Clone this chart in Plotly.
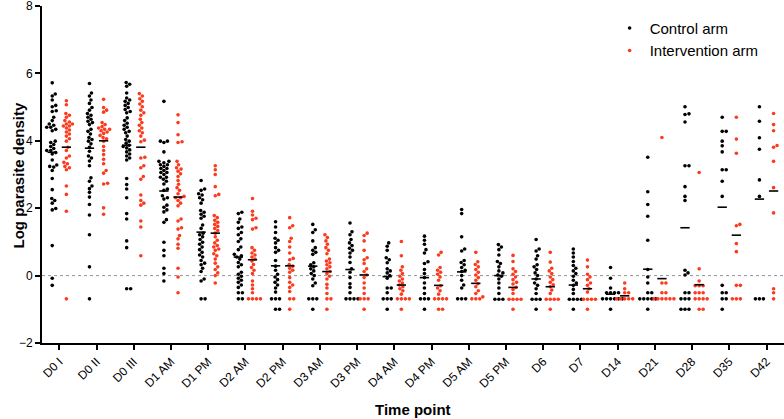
import plotly.graph_objects as go

# ---------------- data ----------------
categories = ["D0 I", "D0 II", "D0 III", "D1 AM", "D1 PM", "D2 AM", "D2 PM", "D3 AM",
              "D3 PM", "D4 AM", "D4 PM", "D5 AM", "D5 PM", "D6", "D7", "D14", "D21",
              "D28", "D35", "D42"]

c_D0_I = [5.72, 5.39, 5.33, 5.21, 5.05, 5.01, 4.89, 4.87, 4.70, 4.60, 4.50, 4.46, 4.40, 4.40, 4.34, 4.30,
          3.99, 3.95, 3.89, 3.83, 3.77, 3.71, 3.71, 3.65, 3.61, 3.43, 3.28, 3.24, 3.22, 3.12, 2.88, 2.55,
          2.29, 2.23, 2.15, 1.99, 1.95, 0.89, -0.08, -0.29]
i_D0_I = [5.19, 5.07, 4.81, 4.76, 4.70, 4.60, 4.56, 4.50, 4.50, 4.44, 4.44, 4.38, 4.32, 4.26, 4.20, 4.14,
          4.06, 3.99, 3.81, 3.71, 3.55, 3.49, 3.36, 3.32, 3.24, 3.20, 3.14, 2.66, 2.41, 1.91, -0.69]
c_D0_II = [5.70, 5.42, 5.33, 5.21, 5.11, 4.99, 4.91, 4.81, 4.76, 4.70, 4.64, 4.58, 4.54, 4.48, 4.34, 4.28,
           4.20, 4.10, 4.04, 3.99, 3.91, 3.81, 3.69, 3.55, 3.49, 3.40, 3.26, 2.90, 2.80, 2.66, 2.58, 2.47,
           2.33, 2.11, 1.80, 1.21, 0.26, -0.69]
i_D0_II = [5.23, 4.99, 4.91, 4.85, 4.54, 4.48, 4.42, 4.38, 4.34, 4.34, 4.30, 4.26, 4.22, 4.16, 4.10, 4.06,
           3.99, 3.83, 3.71, 3.59, 3.45, 3.32, 3.12, 3.04, 2.74, 2.72, 2.01, 1.82]
c_D0_III = [5.73, 5.68, 5.62, 5.42, 5.27, 5.21, 5.17, 5.11, 5.05, 4.99, 4.93, 4.87, 4.83, 4.68, 4.60, 4.52,
            4.46, 4.40, 4.34, 4.28, 4.24, 4.14, 4.04, 3.99, 3.93, 3.87, 3.83, 3.79, 3.73, 3.67, 3.61, 3.55,
            3.49, 3.43, 2.88, 2.70, 2.57, 2.31, 1.84, 1.68, 1.03, 0.83, -0.39, -0.39]
i_D0_III = [5.40, 5.33, 5.25, 5.17, 5.09, 5.01, 4.91, 4.83, 4.76, 4.64, 4.54, 4.46, 4.38, 4.30, 4.24, 4.14,
            4.02, 3.97, 3.51, 3.49, 3.26, 3.20, 2.94, 2.86, 2.39, 2.23, 2.15, 2.09, 1.62, 1.44, 0.59]
c_D1_AM = [5.17, 3.99, 3.99, 3.95, 3.67, 3.39, 3.39, 3.35, 3.29, 3.29, 3.24, 3.18, 3.18, 3.12, 3.06, 3.06,
           3.00, 2.92, 2.92, 2.86, 2.80, 2.72, 2.57, 2.53, 2.37, 2.31, 2.27, 2.09, 2.03, 1.95, 1.89, 1.66,
           1.58, 0.99, 0.75, 0.59, 0.22, 0.06, -0.16]
i_D1_AM = [4.77, 4.54, 4.18, 3.97, 3.95, 3.39, 3.29, 3.20, 3.16, 3.10, 3.02, 2.94, 2.82, 2.71, 2.61, 2.53,
           2.43, 2.35, 2.31, 2.31, 2.23, 2.15, 2.07, 1.68, 1.62, 1.42, 1.38, 1.19, 1.09, 0.93, 0.81, 0.22,
           -0.04, -0.51]
c_D1_PM = [2.82, 2.57, 2.53, 2.43, 2.39, 2.31, 2.25, 2.15, 1.93, 1.88, 1.82, 1.76, 1.70, 1.50, 1.40, 1.26,
           1.21, 1.15, 1.07, 0.99, 0.93, 0.85, 0.77, 0.69, 0.61, 0.55, 0.45, 0.37, 0.32, 0.22, 0.12, -0.10,
           -0.16, -0.69, -0.69]
i_D1_PM = [3.26, 3.14, 3.00, 2.64, 2.41, 2.37, 1.78, 1.72, 1.64, 1.58, 1.52, 1.46, 1.40, 1.34, 1.26, 1.15,
           1.05, 0.97, 0.89, 0.85, 0.79, 0.75, 0.65, 0.59, 0.49, 0.37, 0.26, 0.18, 0.08, 0.00, -0.22]
c_D2_AM = [1.88, 1.84, 1.68, 1.58, 1.44, 1.40, 1.28, 1.21, 1.09, 1.01, 0.85, 0.77, 0.63, 0.59, 0.55, 0.49,
           0.39, 0.32, 0.26, 0.10, 0.04, -0.02, -0.08, -0.14, -0.20, -0.28, -0.35, -0.51, -0.51, -0.69, -0.69]
i_D2_AM = [2.29, 1.91, 1.80, 1.70, 1.66, 1.42, 1.38, 0.83, 0.75, 0.67, 0.61, 0.55, 0.49, 0.43, 0.33, 0.24,
           0.16, 0.06, -0.16, -0.28, -0.39, -0.51, -0.69, -0.69, -0.69, -0.69]
c_D2_PM = [1.60, 1.44, 1.28, 1.11, 1.05, 0.97, 0.83, 0.75, 0.69, 0.45, 0.28, 0.16, 0.04, -0.04, -0.12, -0.20,
           -0.28, -0.37, -0.49, -0.69, -0.69, -0.69, -1.00, -1.00]
i_D2_PM = [1.72, 1.48, 1.42, 1.11, 1.01, 0.85, 0.67, 0.51, 0.47, 0.33, 0.28, 0.22, 0.16, 0.10, -0.06, -0.20,
           -0.28, -0.35, -0.47, -0.69, -0.69, -1.00]
c_D3_AM = [1.52, 1.36, 1.28, 1.03, 0.83, 0.75, 0.69, 0.63, 0.38, 0.32, 0.26, 0.20, 0.14, 0.06, 0.00, -0.10,
           -0.22, -0.30, -0.69, -0.69, -0.69, -1.00]
i_D3_AM = [1.21, 1.13, 1.03, 0.93, 0.83, 0.75, 0.65, 0.49, 0.43, 0.38, 0.32, 0.26, 0.20, 0.12, 0.06, -0.02,
           -0.10, -0.26, -0.37, -0.53, -0.69, -0.69, -1.00]
c_D3_PM = [1.56, 1.30, 1.21, 1.07, 0.97, 0.89, 0.81, 0.75, 0.67, 0.55, 0.39, 0.20, 0.10, -0.06, -0.24, -0.35,
           -0.51, -0.69, -0.69, -0.69, -0.69]
i_D3_PM = [1.26, 1.19, 1.03, 0.75, 0.53, 0.47, 0.36, 0.20, 0.12, 0.02, -0.06, -0.22, -0.37, -0.53, -0.69,
           -0.69, -0.69, -1.00]
c_D4_AM = [0.97, 0.87, 0.75, 0.53, 0.47, 0.38, 0.20, 0.14, 0.08, 0.00, -0.08, -0.37, -0.37, -0.51, -0.69,
           -0.69, -0.69, -1.00]
i_D4_AM = [1.01, 0.59, 0.26, 0.16, 0.06, -0.02, -0.10, -0.16, -0.22, -0.28, -0.33, -0.39, -0.45, -0.55,
           -0.69, -0.69, -0.69, -0.69, -1.00]
c_D4_PM = [1.17, 1.05, 0.93, 0.77, 0.67, 0.41, 0.36, 0.18, 0.06, -0.06, -0.22, -0.37, -0.53, -0.69, -0.69,
           -0.69, -1.00]
i_D4_PM = [0.69, 0.61, 0.24, 0.16, 0.10, 0.04, -0.04, -0.14, -0.30, -0.37, -0.45, -0.55, -0.69, -0.69,
           -0.69, -0.69, -1.00, -1.00]
c_D5_AM = [1.96, 1.84, 1.15, 0.79, 0.73, 0.45, 0.39, 0.32, 0.24, 0.16, 0.12, 0.00, -0.14, -0.28, -0.37,
           -0.69, -0.69, -0.69]
i_D5_AM = [0.69, 0.41, 0.33, 0.26, 0.18, 0.10, 0.02, -0.06, -0.14, -0.24, -0.33, -0.45, -0.53, -0.63,
           -0.69, -0.69, -0.69]
c_D5_PM = [0.92, 0.85, 0.77, 0.61, 0.42, 0.36, 0.26, 0.14, 0.08, 0.02, -0.02, -0.10, -0.22, -0.37, -0.53,
           -0.70, -0.70, -0.70]
i_D5_PM = [0.60, 0.42, 0.20, 0.12, 0.04, -0.04, -0.12, -0.20, -0.25, -0.35, -0.41, -0.53, -0.70, -0.70,
           -0.70, -0.70, -1.00]
c_D6 = [1.07, 0.79, 0.73, 0.59, 0.49, 0.32, 0.26, 0.18, 0.08, 0.00, -0.10, -0.22, -0.29, -0.39, -0.53,
        -0.70, -0.70, -0.70, -1.00]
i_D6 = [0.69, 0.40, 0.22, 0.14, 0.06, -0.04, -0.12, -0.20, -0.27, -0.33, -0.43, -0.53, -0.70, -0.70,
        -0.70, -0.70, -1.00]
c_D7 = [0.79, 0.67, 0.55, 0.42, 0.30, 0.22, 0.14, 0.06, -0.02, -0.14, -0.22, -0.29, -0.41, -0.53, -0.70,
        -0.70, -0.70, -0.70, -1.00]
i_D7 = [0.46, 0.26, 0.04, -0.04, -0.12, -0.22, -0.29, -0.39, -0.49, -0.70, -0.70, -0.70, -0.70, -1.00]
c_D14 = [0.24, -0.08, -0.37, -0.51, -0.51, -0.51, -0.51, -0.69, -0.69, -0.69, -0.69, -0.69, -0.69, -1.00]
i_D14 = [-0.22, -0.39, -0.51, -0.51, -0.69, -0.69, -0.69, -0.69, -0.69]
c_D21 = [3.51, 2.49, 2.11, 1.76, 1.05, 0.18, -0.04, -0.22, -0.51, -0.51, -0.69, -0.69, -0.69, -0.69,
         -0.69, -1.00]
i_D21 = [4.10, -0.22, -0.22, -0.51, -0.51, -0.69, -0.69, -0.69, -0.69, -0.69, -0.69]
c_D28 = [5.01, 4.80, 4.78, 4.56, 3.26, 3.26, 2.64, 2.35, 2.23, 0.16, 0.08, 0.02, -0.51, -0.51, -0.69,
         -0.69, -0.69, -1.00, -1.00, -1.00]
i_D28 = [3.06, 0.20, -0.16, -0.30, -0.30, -0.30, -0.51, -0.51, -0.51, -0.69, -0.69, -0.69, -0.69,
         -1.00, -1.00]
c_D35 = [4.70, 4.28, 4.28, 3.99, 3.85, 3.67, 3.14, 3.14, 2.80, 2.35, -0.29, -0.51, -0.51, -0.69, -0.69,
         -1.00]
i_D35 = [4.70, 4.05, 3.63, 1.52, 1.48, 0.95, 0.71, -0.29, -0.29, -0.69, -0.69, -0.69]
c_D42 = [5.01, 4.58, 4.09, 3.75, 2.84, 2.35, -0.69, -0.69, -0.69]
i_D42 = [4.81, 4.48, 4.30, 3.86, 3.81, 3.39, 2.61, 1.86, -0.39, -0.51, -0.69]

median_control = [3.66, 3.78, 3.87, 2.51, 1.29, 0.55, 0.29, 0.28, 0.18, -0.03, -0.06, 0.11, 0.00,
                  -0.10, -0.28, -0.55, 0.19, 1.42, 2.03, 2.27]
median_intervention = [3.81, 4.00, 3.81, 2.33, 1.26, 0.47, 0.29, 0.12, 0.02, -0.28, -0.29, -0.23,
                       -0.35, -0.33, -0.39, -0.60, -0.09, -0.27, 1.20, 2.51]

y_ticks = [-2, 0, 2, 4, 6, 8]

control_groups = [c_D0_I, c_D0_II, c_D0_III, c_D1_AM, c_D1_PM, c_D2_AM, c_D2_PM, c_D3_AM, c_D3_PM,
                  c_D4_AM, c_D4_PM, c_D5_AM, c_D5_PM, c_D6, c_D7, c_D14, c_D21, c_D28, c_D35, c_D42]
interv_groups = [i_D0_I, i_D0_II, i_D0_III, i_D1_AM, i_D1_PM, i_D2_AM, i_D2_PM, i_D3_AM, i_D3_PM,
                 i_D4_AM, i_D4_PM, i_D5_AM, i_D5_PM, i_D6, i_D7, i_D14, i_D21, i_D28, i_D35, i_D42]

# ---------------- layout helpers ----------------
W, H = 784, 419
ML, MR, MT, MB = 42, 0, 6, 76
X_RANGE = [-0.465, 19.47]
Y_RANGE = [-2, 8]
PX_X = (W - ML - MR) / (X_RANGE[1] - X_RANGE[0])
PX_Y = (H - MT - MB) / (Y_RANGE[1] - Y_RANGE[0])
GROUP_OFFSET = 0.19
DOT = 3.6  # marker diameter in px


def swarm(vals, center):
    """Deterministic beeswarm: spread overlapping dots sideways (pixels -> data units)."""
    order = sorted(range(len(vals)), key=lambda k: vals[k])
    placed = []
    xs = [0.0] * len(vals)
    cands = [0.0]
    for s in range(1, 40):
        cands += [s * 0.5, -s * 0.5]
    for k in order:
        ypx = vals[k] * PX_Y
        for dx in cands:
            ok = True
            for (pdx, py) in placed:
                dy = ypx - py
                if abs(dy) < DOT and (dx - pdx) ** 2 + dy ** 2 < DOT ** 2:
                    ok = False
                    break
            if ok:
                break
        placed.append((dx, ypx))
        xs[k] = center + dx / PX_X
    return xs


def build(groups, sign):
    xs, ys = [], []
    for i, g in enumerate(groups):
        xs += swarm(g, i + sign * GROUP_OFFSET)
        ys += g
    return xs, ys


cx, cy = build(control_groups, -1)
ix, iy = build(interv_groups, +1)

RED = "#fb3a1e"

fig = go.Figure()
fig.add_trace(go.Scatter(x=cx, y=cy, mode="markers", name="Control arm",
                         marker=dict(color="black", size=DOT, line=dict(width=0))))
fig.add_trace(go.Scatter(x=ix, y=iy, mode="markers", name="Intervention arm",
                         marker=dict(color=RED, size=DOT, line=dict(width=0))))

half = 0.125
mx, my = [], []
for i, (mc, mi) in enumerate(zip(median_control, median_intervention)):
    for c, m in ((i - GROUP_OFFSET, mc), (i + GROUP_OFFSET, mi)):
        mx += [c - half, c + half, None]
        my += [m, m, None]
fig.add_trace(go.Scatter(x=mx, y=my, mode="lines", showlegend=False, hoverinfo="skip",
                         line=dict(color="black", width=1.6)))

fig.add_shape(type="line", xref="paper", x0=0, x1=1, yref="y", y0=0, y1=0,
              line=dict(color="#777777", width=0.8, dash="dot"), layer="below")

font_family = "Arial, 'Liberation Sans', sans-serif"
fig.update_layout(
    width=W, height=H,
    margin=dict(l=ML, r=MR, t=MT, b=MB),
    paper_bgcolor="white", plot_bgcolor="white",
    font=dict(family=font_family, color="black", size=12),
    legend=dict(x=0.765, y=0.983, xanchor="left", yanchor="top",
                font=dict(size=15, family=font_family), itemwidth=30,
                bgcolor="rgba(0,0,0,0)", tracegroupgap=0),
    xaxis=dict(range=X_RANGE, tickmode="array", tickvals=list(range(len(categories))),
               ticktext=categories, tickangle=-45, showgrid=False, zeroline=False,
               showline=True, linecolor="black", linewidth=2, ticks="outside",
               ticklen=5, tickwidth=2, tickcolor="black", tickfont=dict(size=12),
               automargin=False, ticklabeloverflow="allow"),
    yaxis=dict(range=Y_RANGE, tickmode="array", tickvals=y_ticks,
               showgrid=False, zeroline=False, showline=True, linecolor="black",
               linewidth=2, ticks="outside", ticklen=5, tickwidth=2, tickcolor="black",
               tickfont=dict(size=12), automargin=False, ticklabeloverflow="allow"),
    annotations=[
        dict(text="<b>Log parasite density</b>", xref="paper", yref="paper", x=-0.031, y=0.5,
             textangle=-90, showarrow=False, font=dict(size=15), xanchor="center", yanchor="middle"),
        dict(text="<b>Time point</b>", xref="paper", yref="paper", x=0.5, y=-0.198,
             showarrow=False, font=dict(size=15), xanchor="center", yanchor="middle"),
    ],
)

fig.write_html("out.html", config={"displayModeBar": False},
               post_script="document.body.style.margin='0';document.body.style.overflow='hidden';")
